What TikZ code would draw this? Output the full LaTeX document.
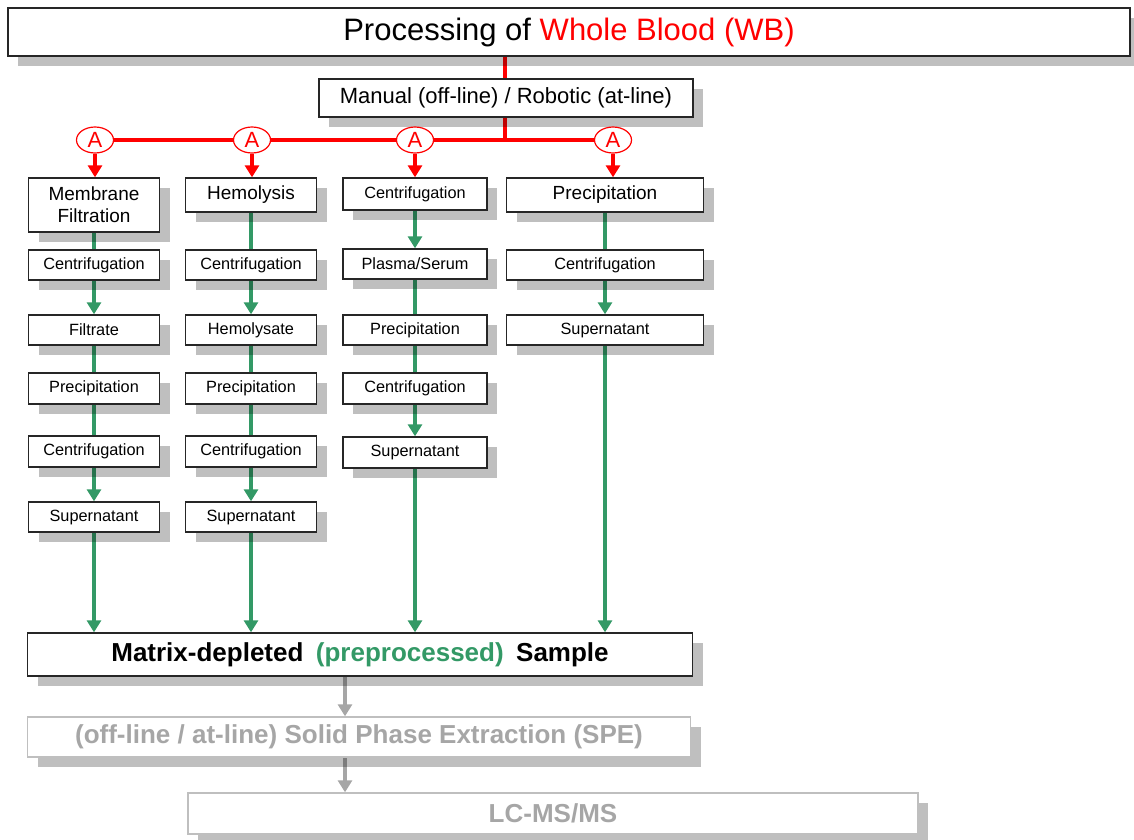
\documentclass[tikz,border=0pt]{standalone}
\usepackage{fontspec}
\setmainfont{Liberation Sans}
\usetikzlibrary{arrows.meta,shadows,shapes.geometric,calc}
\definecolor{flowgreen}{RGB}{51,153,102}
\definecolor{paleline}{RGB}{191,191,191}
\definecolor{paletext}{RGB}{166,166,166}
\pgfdeclarelayer{background}
\pgfsetlayers{background,main}
\begin{document}
\begin{tikzpicture}[x=1pt,y=-1pt,
  boxshadow/.style={drop shadow={shadow xshift=10pt,shadow yshift=-10pt,fill=black,opacity=0.25}},
  stage/.style={draw=black!85,line width=1.4pt,fill=white,inner sep=0pt,boxshadow},
  smallbox/.style={stage,minimum height=30pt,font=\fontsize{16.3}{19}\selectfont},
  headbox/.style={stage,minimum height=34pt,font=\fontsize{19}{22}\selectfont},
  widebox/.style={stage,font=\fontsize{26}{26}\selectfont\bfseries},
  akey/.style={ellipse,draw=red,line width=1.2pt,fill=white,minimum width=37pt,minimum height=26pt,inner sep=0pt,text=red,font=\fontsize{22}{22}\selectfont},
  redflow/.style={red,line width=4pt},
  redarrow/.style={redflow,-{Triangle[width=14pt,length=12pt]}},
  greenflow/.style={flowgreen,line width=3.5pt},
  greenarrow/.style={greenflow,-{Triangle[width=14pt,length=12pt]}},
  grayarrow/.style={paletext,line width=3.5pt,-{Triangle[width=14pt,length=12pt]}},
]
\useasboundingbox (0,0) rectangle (1134,839);

% header and mode of operation
\node[stage,minimum width=1122pt,minimum height=48pt,font=\fontsize{31}{31}\selectfont] (wb) at (569,32)
  {Processing of \textcolor{red}{Whole Blood (WB)}};
\node[stage,minimum width=374pt,minimum height=38pt,font=\fontsize{22}{22}\selectfont] (mode) at (506,98)
  {Manual (off-line) / Robotic (at-line)};

% automation markers
\node[akey] (a1) at (95,140) {A};
\node[akey] (a2) at (252,140) {A};
\node[akey] (a3) at (415,140) {A};
\node[akey] (a4) at (613,140) {A};

% column 1: membrane filtration
\node[headbox,minimum width=131pt,minimum height=54pt,align=center] (c1r0) at (94,205) {Membrane\\Filtration};
\node[smallbox,minimum width=131pt] (c1r1) at (94,265) {Centrifugation};
\node[smallbox,minimum width=131pt] (c1r2) at (94,330) {Filtrate};
\node[smallbox,minimum width=131pt,minimum height=31pt] (c1r3) at (94,388.5) {Precipitation};
\node[smallbox,minimum width=131pt,minimum height=31pt] (c1r4) at (94,451.5) {Centrifugation};
\node[smallbox,minimum width=131pt] (c1r5) at (94,517) {Supernatant};

% column 2: hemolysis
\node[headbox,minimum width=131pt] (c2r0) at (251,195) {Hemolysis};
\node[smallbox,minimum width=131pt] (c2r1) at (251,265) {Centrifugation};
\node[smallbox,minimum width=131pt] (c2r2) at (251,330) {Hemolysate};
\node[smallbox,minimum width=131pt,minimum height=31pt] (c2r3) at (251,388.5) {Precipitation};
\node[smallbox,minimum width=131pt,minimum height=31pt] (c2r4) at (251,451.5) {Centrifugation};
\node[smallbox,minimum width=131pt] (c2r5) at (251,517) {Supernatant};

% column 3: plasma / serum
\node[smallbox,minimum width=144pt,minimum height=32pt] (c3r0) at (415,194) {Centrifugation};
\node[smallbox,minimum width=144pt] (c3r1) at (415,264) {Plasma/Serum};
\node[smallbox,minimum width=144pt] (c3r2) at (415,330) {Precipitation};
\node[smallbox,minimum width=144pt,minimum height=31pt] (c3r3) at (415,388.5) {Centrifugation};
\node[smallbox,minimum width=144pt,minimum height=31pt] (c3r4) at (415,452.5) {Supernatant};

% column 4: direct precipitation
\node[headbox,minimum width=197pt] (c4r0) at (605,195) {Precipitation};
\node[smallbox,minimum width=197pt] (c4r1) at (605,265) {Centrifugation};
\node[smallbox,minimum width=197pt] (c4r2) at (605,330) {Supernatant};

% downstream stages
\node[widebox,minimum width=665pt,minimum height=43pt] (mx) at (360,654.5)
  {Matrix-depleted\hspace{0.2em} \textcolor{flowgreen}{(preprocessed)}\hspace{0.2em} Sample};
\node[widebox,draw=paleline,text=paletext,minimum width=663pt,minimum height=40pt] (spe) at (359,737)
  {(off-line / at-line) Solid Phase Extraction (SPE)};
\node[widebox,draw=paleline,text=paletext,minimum width=730pt,minimum height=41pt] (lc) at (553,813.5)
  {LC-MS/MS};

\coordinate (hub) at (505,140);
\coordinate (gx) at (345,0);

\begin{pgfonlayer}{background}
  % distribution lines
  \draw[redflow] (wb.south -| hub) -- (hub);
  \draw[redflow] (a1) -- (a4);
  % column 1
  \draw[greenflow] (c1r0.south) -- (c1r1.north);
  \draw[greenarrow] (c1r1.south) -- (c1r2.north);
  \draw[greenflow] (c1r2.south) -- (c1r3.north);
  \draw[greenflow] (c1r3.south) -- (c1r4.north);
  \draw[greenarrow] (c1r4.south) -- (c1r5.north);
  \draw[greenarrow] (c1r5.south) -- (c1r5.south |- mx.north);
  % column 2
  \draw[greenflow] (c2r0.south) -- (c2r1.north);
  \draw[greenarrow] (c2r1.south) -- (c2r2.north);
  \draw[greenflow] (c2r2.south) -- (c2r3.north);
  \draw[greenflow] (c2r3.south) -- (c2r4.north);
  \draw[greenarrow] (c2r4.south) -- (c2r5.north);
  \draw[greenarrow] (c2r5.south) -- (c2r5.south |- mx.north);
  % column 3
  \draw[greenarrow] (c3r0.south) -- (c3r1.north);
  \draw[greenflow] (c3r1.south) -- (c3r2.north);
  \draw[greenflow] (c3r2.south) -- (c3r3.north);
  \draw[greenarrow] (c3r3.south) -- (c3r4.north);
  \draw[greenarrow] (c3r4.south) -- (c3r4.south |- mx.north);
  % column 4
  \draw[greenflow] (c4r0.south) -- (c4r1.north);
  \draw[greenarrow] (c4r1.south) -- (c4r2.north);
  \draw[greenarrow] (c4r2.south) -- (c4r2.south |- mx.north);
  % downstream
  \draw[grayarrow] (mx.south -| gx) -- (spe.north -| gx);
  \draw[grayarrow] (spe.south -| gx) -- (lc.north -| gx);
\end{pgfonlayer}

% red feed arrows into each route
\draw[redarrow] (a1.south) -- (a1.south |- c1r0.north);
\draw[redarrow] (a2.south) -- (a2.south |- c2r0.north);
\draw[redarrow] (a3.south) -- (a3.south |- c3r0.north);
\draw[redarrow] (a4.south) -- (a4.south |- c4r0.north);
\end{tikzpicture}
\end{document}
